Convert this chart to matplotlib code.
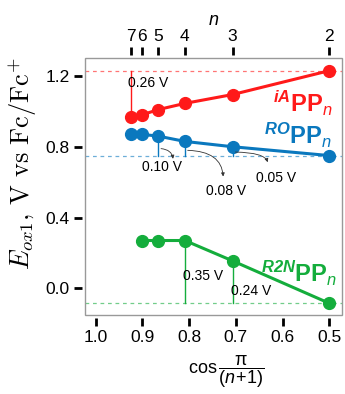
import numpy as np
import matplotlib
matplotlib.use("Agg")
import matplotlib.pyplot as plt
from matplotlib.patches import Rectangle

plt.rcParams['font.family'] = 'Liberation Sans'
plt.rcParams['mathtext.fontset'] = 'custom'
plt.rcParams['mathtext.rm'] = 'Liberation Sans'
plt.rcParams['mathtext.it'] = 'Liberation Sans:italic'
plt.rcParams['mathtext.bf'] = 'Liberation Sans:bold'
plt.rcParams['mathtext.bfit'] = 'Liberation Sans:bold:italic'

# data
n_red = [7, 6, 5, 4, 3, 2]
e_red = [0.97, 0.98, 1.01, 1.045, 1.095, 1.23]
n_blue = [7, 6, 5, 4, 3, 2]
e_blue = [0.87, 0.87, 0.86, 0.83, 0.80, 0.75]
n_green = [6, 5, 4, 3, 2]
e_green = [0.27, 0.27, 0.27, 0.155, -0.085]
n_top = [2, 3, 4, 5, 6, 7]

def cosx(n):
    return np.cos(np.pi / (np.array(n) + 1))

RED = '#ff1a1a'
BLUE = '#0a78be'
GREEN = '#14ad3c'

fig = plt.figure(figsize=(3.45, 3.94), dpi=100)
ax = fig.add_axes([0.246, 0.2005, 0.744, 0.6525])

x_red, x_blue, x_green = cosx(n_red), cosx(n_blue), cosx(n_green)

# reference dashed lines
ax.axhline(e_red[-1], color=RED, lw=0.9, ls=(0, (3, 3)), alpha=0.6)
ax.axhline(e_blue[-1], color=BLUE, lw=0.9, ls=(0, (3, 3)), alpha=0.6)
ax.axhline(e_green[-1], color=GREEN, lw=0.9, ls=(0, (3, 3)), alpha=0.6)

# vertical gap lines
ax.plot([x_red[0], x_red[0]], [e_red[0], e_red[-1]], color=RED, lw=1.0)
for i in [2, 3, 4]:
    ax.plot([x_blue[i], x_blue[i]], [e_blue[i], e_blue[-1]], color=BLUE, lw=1.0)
for i in [2, 3]:
    ax.plot([x_green[i], x_green[i]], [e_green[i], e_green[-1]], color=GREEN, lw=1.0)

for x, y, c in [(x_red, e_red, RED), (x_blue, e_blue, BLUE), (x_green, e_green, GREEN)]:
    ax.plot(x, y, '-o', color=c, lw=2.2, ms=8.5, zorder=3)

# gap labels
ax.text(x_red[0] + 0.007, 1.16, '0.26 V', fontsize=10, va='center', ha='left')
ax.text(x_green[2] + 0.004, 0.072, '0.35 V', fontsize=10, va='center', ha='left')
ax.text(x_green[3] + 0.004, -0.018, '0.24 V', fontsize=10, va='center', ha='left')

arw = dict(arrowstyle='-|>', color='#333333', lw=0.6, mutation_scale=5,
           connectionstyle='angle3,angleA=0,angleB=90')
ax.annotate('', xy=(0.834, 0.716), xytext=(x_blue[2], 0.79), arrowprops=arw)
ax.annotate('', xy=(0.727, 0.616), xytext=(x_blue[3], 0.78), arrowprops=arw)
ax.annotate('', xy=(0.631, 0.697), xytext=(x_blue[4], 0.77), arrowprops=arw)
ax.text(0.859, 0.688, '0.10 V', fontsize=10, va='center', ha='center')
ax.text(0.721, 0.551, '0.08 V', fontsize=10, va='center', ha='center')
ax.text(0.614, 0.624, '0.05 V', fontsize=10, va='center', ha='center')

# series names
ax.text(0.494, 1.064, r'$^{\mathbfit{iA}}\mathbf{PP}_{\mathit{n}}$', color=RED,
        fontsize=17, ha='right', va='center_baseline')
ax.text(0.494, 0.878, r'$^{\mathbfit{RO}}\mathbf{PP}_{\mathit{n}}$', color=BLUE,
        fontsize=17, ha='right', va='center_baseline')
ax.text(0.483, 0.103, r'$^{\mathbfit{R2N}}\mathbf{PP}_{\mathit{n}}$', color=GREEN,
        fontsize=17, ha='right', va='center_baseline')

ax.set_xlim(1.023, 0.474)
ax.set_ylim(-0.151, 1.302)
ax.set_xticks([1.0, 0.9, 0.8, 0.7, 0.6, 0.5])
ax.set_xticklabels(['1.0', '0.9', '0.8', '0.7', '0.6', '0.5'])
ax.set_yticks([0.0, 0.4, 0.8, 1.2])
ax.set_yticklabels(['0.0', '0.4', '0.8', '1.2'])
# ticks sit a little off the grey frame
for s in ax.spines.values():
    s.set_position(('outward', 2))
    s.set_color('none')
ax.add_patch(Rectangle((0, 0), 1, 1, transform=ax.transAxes, fill=False,
                       ec='#999999', lw=1.0, clip_on=False, zorder=5))
ax.tick_params(direction='out', length=6, width=2, color='black', labelsize=12.5, pad=3)

ax.set_xlabel(r'$\mathrm{cos}\,\dfrac{\mathrm{π}}{(\mathit{n}\!+\!1)}$', fontsize=13)
ax.xaxis.set_label_coords(0.549, -0.15)
ax.set_ylabel(r'$E_{ox1},\,\mathrm{V\ vs\ Fc/Fc}^{+}$', fontsize=19,
              math_fontfamily='cm')
ax.yaxis.set_label_coords(-0.18, 0.59)

top = ax.twiny()
top.set_xlim(ax.get_xlim())
top.set_xticks(cosx(n_top))
top.set_xticklabels([str(n) for n in n_top])
for s in top.spines.values():
    s.set_position(('outward', 2))
    s.set_color('none')
top.tick_params(direction='out', length=6, width=2, color='black', labelsize=12.5, pad=2)
top.set_xlabel(r'$\mathit{n}$', fontsize=13, labelpad=3)

fig.savefig('out.png', dpi=100)
